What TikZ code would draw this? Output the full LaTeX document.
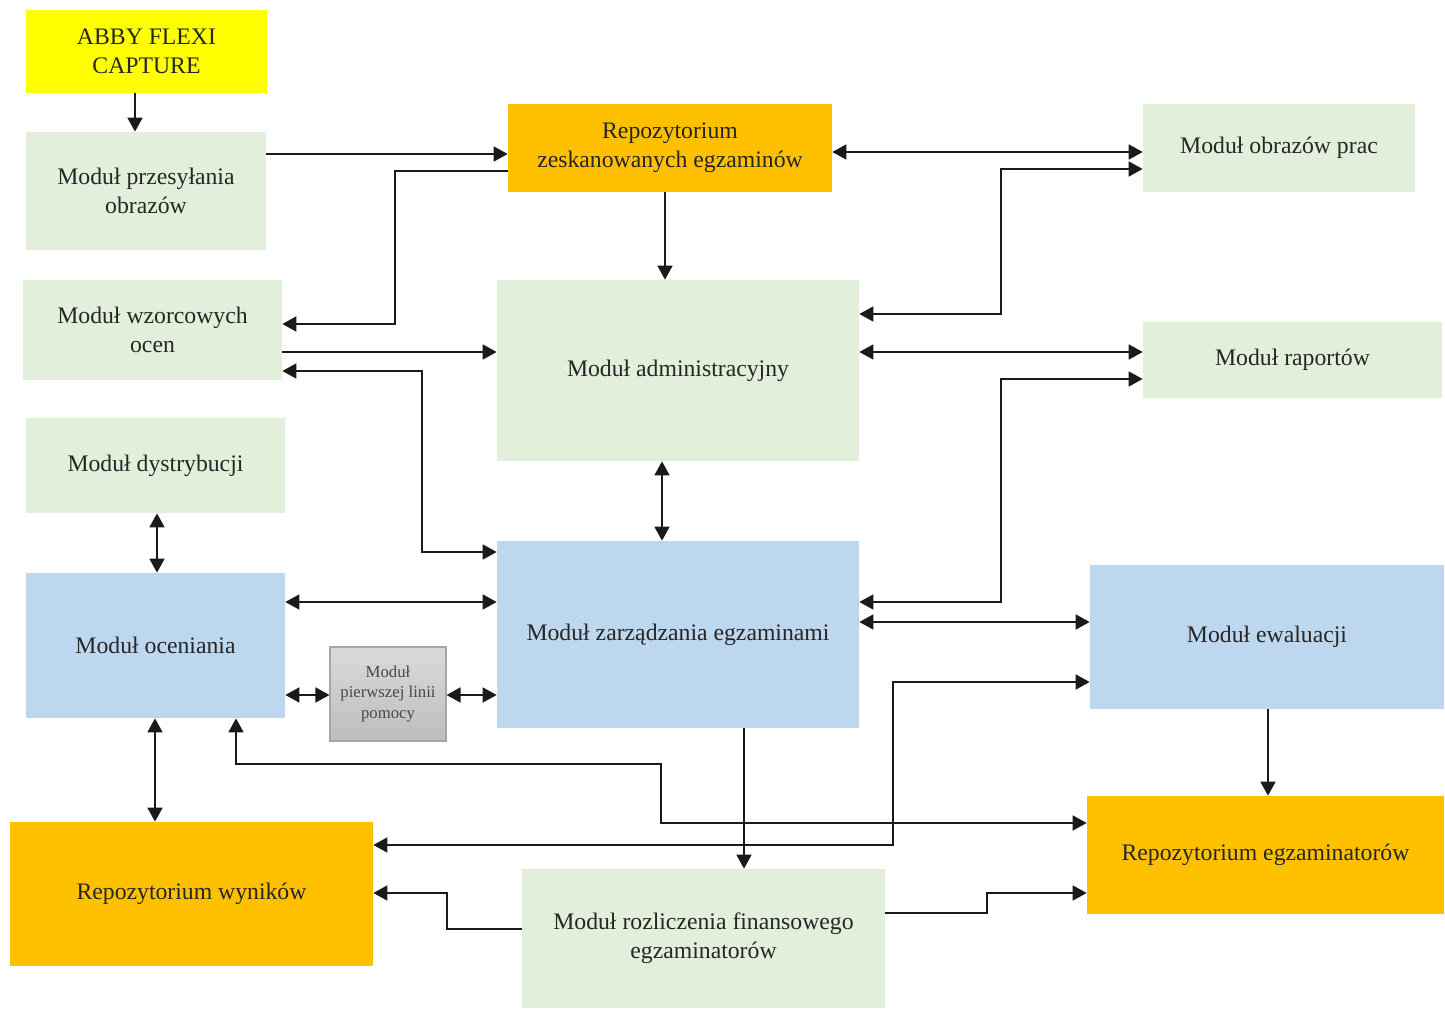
\documentclass[tikz,border=0pt]{standalone}
\usepackage{fontspec}
\setmainfont{Liberation Serif}
\usetikzlibrary{arrows.meta}
\definecolor{cgreen}{HTML}{E2EFDA}
\definecolor{cblue}{HTML}{BDD7EE}
\definecolor{corange}{HTML}{FFC000}
\definecolor{cyellow}{HTML}{FFFF00}
\definecolor{cgraytop}{HTML}{DADADA}
\definecolor{cgraybot}{HTML}{BDBDBD}
\definecolor{cgrayline}{HTML}{A6A6A6}
\definecolor{ctext}{HTML}{262626}
\definecolor{cline}{HTML}{1A1A1A}
\begin{document}
\begin{tikzpicture}[x=0.02cm,y=-0.02cm,
  box/.style={inner sep=0pt, align=center, text=ctext, font=\fontsize{13.5}{16.5}\selectfont},
  greenbox/.style={box, fill=cgreen},
  bluebox/.style={box, fill=cblue},
  orangebox/.style={box, fill=corange},
  yellowbox/.style={box, fill=cyellow},
  graybox/.style={box, top color=cgraytop, bottom color=cgraybot, draw=cgrayline, line width=0.6pt, text=ctext!85, font=\fontsize{9.5}{11.7}\selectfont},
  conn/.style={draw=cline, line width=1.1pt},
  a/.style={conn, -{Triangle[length=8pt,width=8.5pt]}},
  ab/.style={conn, {Triangle[length=8pt,width=8.5pt]}-{Triangle[length=8pt,width=8.5pt]}}
]
\useasboundingbox (0,0) rectangle (1445,1010);

\node[yellowbox, minimum width=4.82cm, minimum height=1.66cm] (abby) at (146.5,51.5) {ABBY FLEXI\\CAPTURE};
\node[greenbox, minimum width=4.80cm, minimum height=2.36cm] (przes) at (146,191) {Moduł przesyłania\\obrazów};
\node[greenbox, minimum width=5.18cm, minimum height=2.00cm] (wzor) at (152.5,330) {Moduł wzorcowych\\ocen};
\node[greenbox, minimum width=5.18cm, minimum height=1.90cm] (dystr) at (155.5,465.5) {Moduł dystrybucji};
\node[bluebox, minimum width=5.18cm, minimum height=2.90cm] (ocen) at (155.5,645.5) {Moduł oceniania};
\node[graybox, minimum width=2.32cm, minimum height=1.88cm] (pierw) at (388,694) {Moduł\\pierwszej linii\\pomocy};
\node[orangebox, minimum width=7.26cm, minimum height=2.88cm] (repow) at (191.5,894) {Repozytorium wyników};
\node[orangebox, minimum width=6.48cm, minimum height=1.76cm] (repoz) at (670,148) {Repozytorium\\zeskanowanych egzaminów};
\node[greenbox, minimum width=7.24cm, minimum height=3.62cm] (admin) at (678,370.5) {Moduł administracyjny};
\node[bluebox, minimum width=7.24cm, minimum height=3.74cm] (zarz) at (678,634.5) {Moduł zarządzania egzaminami};
\node[greenbox, minimum width=7.26cm, minimum height=2.78cm] (rozl) at (703.5,938.5) {Moduł rozliczenia finansowego\\egzaminatorów};
\node[greenbox, minimum width=5.44cm, minimum height=1.76cm] (obraz) at (1279,148) {Moduł obrazów prac};
\node[greenbox, minimum width=5.98cm, minimum height=1.52cm] (rap) at (1292.5,360) {Moduł raportów};
\node[bluebox, minimum width=7.08cm, minimum height=2.88cm] (ewal) at (1267,637) {Moduł ewaluacji};
\node[orangebox, minimum width=7.14cm, minimum height=2.36cm] (repoe) at (1265.5,855) {Repozytorium egzaminatorów};

% connectors
\draw[a] (abby.south -| 135,0) -- (przes.north -| 135,0);
\draw[a] (przes.east |- 0,154) -- (repoz.west |- 0,154);
\draw[a] (repoz.west |- 0,171) -| (395,324) -- (wzor.east |- 0,324);
\draw[a] (wzor.east |- 0,352) -- (admin.west |- 0,352);
\draw[ab] (wzor.east |- 0,371) -| (422,552) -- (zarz.west |- 0,552);
\draw[a] (repoz.south -| 665,0) -- (admin.north -| 665,0);
\draw[ab] (repoz.east |- 0,152) -- (obraz.west |- 0,152);
\draw[ab] (admin.east |- 0,314) -| (1001,169) -- (obraz.west |- 0,169);
\draw[ab] (admin.east |- 0,352) -- (rap.west |- 0,352);
\draw[ab] (zarz.east |- 0,602) -| (1001,379) -- (rap.west |- 0,379);
\draw[ab] (admin.south -| 662,0) -- (zarz.north -| 662,0);
\draw[ab] (dystr.south -| 157,0) -- (ocen.north -| 157,0);
\draw[ab] (ocen.east |- 0,602) -- (zarz.west |- 0,602);
\draw[ab] (ocen.east |- 0,695) -- (pierw.west |- 0,695);
\draw[ab] (pierw.east |- 0,695) -- (zarz.west |- 0,695);
\draw[ab] (zarz.east |- 0,622) -- (ewal.west |- 0,622);
\draw[ab] (repow.east |- 0,845) -| (893,682) -- (ewal.west |- 0,682);
\draw[ab] (ocen.south -| 236,0) |- (661,764) |- (repoe.west |- 0,823);
\draw[ab] (ocen.south -| 155,0) -- (repow.north -| 155,0);
\draw[a] (zarz.south -| 744,0) -- (rozl.north -| 744,0);
\draw[a] (rozl.west |- 0,929) -| (447,893) -- (repow.east |- 0,893);
\draw[a] (rozl.east |- 0,913) -| (987,893) -- (repoe.west |- 0,893);
\draw[a] (ewal.south -| 1268,0) -- (repoe.north -| 1268,0);
\end{tikzpicture}
\end{document}
